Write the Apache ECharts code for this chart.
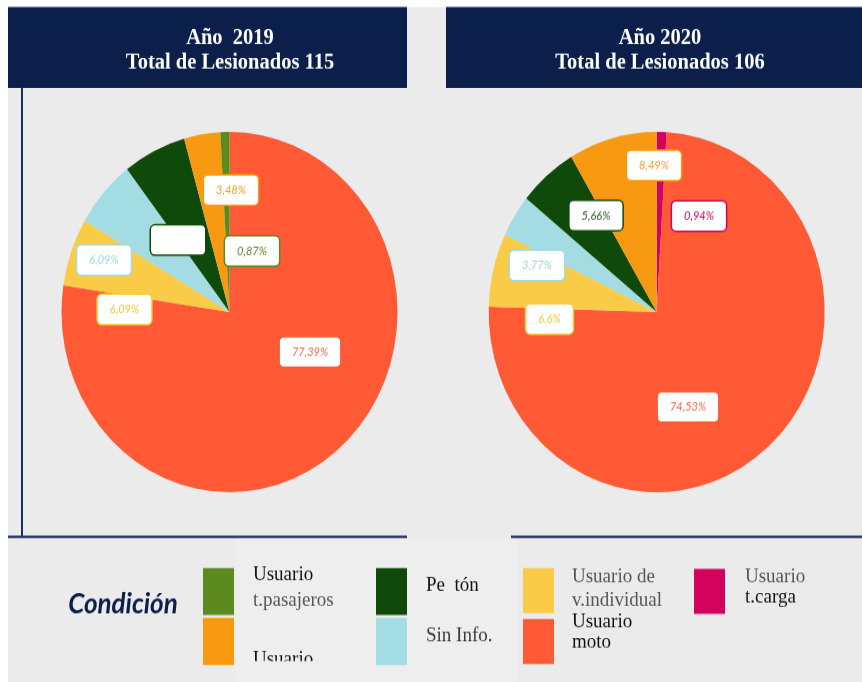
<!DOCTYPE html>
<html>
<head>
<meta charset="utf-8">
<script src="https://cdn.jsdelivr.net/npm/echarts@6/dist/echarts.min.js"></script>
<style>
  html, body { margin: 0; padding: 0; background: #ebebeb; width: 862px; height: 682px; overflow: hidden; }
  #board { position: relative; width: 862px; height: 682px; overflow: hidden; }
  /* the whole board is drawn on a slightly shorter canvas and stretched vertically */
  #chart { position: absolute; left: 0; top: 0; width: 862px; height: 636px;
           transform-origin: 0 0; transform: scaleY(1.0723); }
</style>
</head>
<body>
<div id="board"><div id="chart"></div></div>
<script>
// ---- data ----
const categories = ['Usuario t.pasajeros', 'Usuario', 'Peatón', 'Sin Info.',
                    'Usuario de v.individual', 'Usuario moto', 'Usuario t.carga'];

const years = ['2019', '2020'];
const totals = [115, 106];

// slices listed clockwise from 12 o'clock, values in percent of the year's total
const slices2019 = ['Usuario moto', 'Usuario de v.individual', 'Sin Info.', 'Peatón', 'Usuario', 'Usuario t.pasajeros'];
const pct2019 = [77.39, 6.09, 6.09, 6.09, 3.48, 0.87];
const unlabeled2019 = ['Peatón'];

const slices2020 = ['Usuario t.carga', 'Usuario moto', 'Usuario de v.individual', 'Sin Info.', 'Peatón', 'Usuario'];
const pct2020 = [0.94, 74.53, 6.6, 3.77, 5.66, 8.49];
const unlabeled2020 = [];

// legend captions as printed, one list of lines per category
const legendLines = [
  ['Usuario', 't.pasajeros'],
  ['Usuario'],
  ['Pe  tón'],
  ['Sin Info.'],
  ['Usuario de', 'v.individual'],
  ['Usuario', 'moto'],
  ['Usuario', 't.carga']
];

// ---- styling ----
const palette = ['#5c8a1f', '#f89a11', '#0f4a0b', '#a4dce3', '#f9cb47', '#ff5935', '#d3035d'];
const labelInk = ['#5c8a1f', '#f8a030', '#2e5a2a', '#9fd6de', '#f5c542', '#f26a50', '#d3035d'];
const NAVY = '#0b1f4a';
const K = 682 / 636;                 // vertical stretch applied by CSS
const Y = v => v / K;                // page y -> canvas y
const PIE_Y = 312, PIE_R = 168;
const pieX = [229.5, 656.7];

// label box centres, offset from the pie centre (page pixels)
const labelOffsets = [
  [[80.5, 40], [-105, -2.5], [-125.5, -52], [-51.5, -72], [1.5, -122], [22.5, -61]],
  [[42.3, -96], [31.3, 95], [-107.2, 7], [-119.7, -46.5], [-60.7, -96.5], [-2.7, -146.5]]
];

function pieSeries(k, names, pcts, blanks) {
  const cx = pieX[k];
  return {
    type: 'pie',
    center: [cx, Y(PIE_Y)],
    radius: [0, PIE_R],
    startAngle: 90,
    clockwise: true,
    silent: true,
    animation: false,
    itemStyle: { borderWidth: 0 },
    labelLine: { show: false },
    label: {
      show: true,
      position: 'inside',
      fontFamily: 'Lato',
      fontStyle: 'italic',
      fontSize: 11,
      lineHeight: 13,
      backgroundColor: '#ffffff',
      borderWidth: 1.5,
      borderRadius: 4,
      padding: [7, 12],
      textBorderWidth: 0,
      formatter: p => String(p.value).replace('.', ',') + '%'
    },
    labelLayout: p => {
      const o = labelOffsets[k][p.dataIndex];
      return { x: cx + o[0], y: Y(PIE_Y + o[1]), align: 'center', verticalAlign: 'middle' };
    },
    data: names.map((n, i) => {
      const c = categories.indexOf(n);
      const lab = { color: labelInk[c], borderColor: palette[c] };
      if (blanks.includes(n)) { lab.formatter = ' '; lab.width = 30; }
      return { name: n, value: pcts[i], itemStyle: { color: palette[c] }, label: lab };
    })
  };
}

// ---- frame, titles and legend ----
const g = [];
g.push({ type: 'rect', z: -5, shape: { x: 0, y: 0, width: 862, height: Y(7) }, style: { fill: '#ffffff' } });
g.push({ type: 'rect', z: -5, shape: { x: 0, y: 0, width: 8, height: 636 }, style: { fill: '#ffffff' } });

const boxes = [[8, 399], [446, 416]];
years.forEach((yr, k) => {
  g.push({ type: 'rect', z: 1, shape: { x: boxes[k][0], y: Y(7), width: boxes[k][1], height: Y(88) - Y(7) },
           style: { fill: NAVY } });
  const cxText = k === 0 ? 230 : 660;
  g.push({ type: 'text', z: 2, x: cxText, y: Y(38),
           style: { text: 'Año' + (k === 0 ? '  ' : ' ') + yr, fill: '#ffffff', font: 'bold 20.5px "Liberation Serif"',
                    align: 'center', verticalAlign: 'middle' } });
  g.push({ type: 'text', z: 2, x: cxText, y: Y(63),
           style: { text: 'Total de Lesionados ' + totals[k], fill: '#ffffff', font: 'bold 20.5px "Liberation Serif"',
                    align: 'center', verticalAlign: 'middle' } });
});

// frame lines
g.push({ type: 'rect', z: 1, shape: { x: 21, y: Y(88), width: 2, height: Y(537) - Y(88) }, style: { fill: '#1c2e5c' } });
g.push({ type: 'rect', z: 1, shape: { x: 236, y: Y(538), width: 282, height: 636 - Y(538) }, style: { fill: '#eeeeee' } });
g.push({ type: 'rect', z: 1, shape: { x: 8, y: Y(535.5), width: 399, height: 2.5 / K }, style: { fill: '#1c2e5c' } });
g.push({ type: 'rect', z: 1, shape: { x: 511, y: Y(535.5), width: 351, height: 2.5 / K }, style: { fill: '#1c2e5c' } });

g.push({ type: 'text', z: 2, x: 123, y: Y(604),
         style: { text: 'Condición', fill: NAVY, font: 'italic bold 26px Lato', align: 'center', verticalAlign: 'middle' } });

// legend swatches: [x, top, bottom] in page pixels
const swatch = [
  [203, 568, 615], [203, 618, 665], [376, 568, 615], [376, 618, 665],
  [523, 568, 613], [523, 619, 664], [694, 569, 614]
];
// caption lines: x, then per-line [centre y, colour]
const captions = [
  [253, [[575, '#111111'], [601, '#555555']]],
  [253, [[659.5, '#111111']]],
  [426, [[585, '#111111']]],
  [426, [[636, '#3a3a3a']]],
  [572, [[577, '#555555'], [601, '#555555']]],
  [572, [[622, '#111111'], [642, '#111111']]],
  [745, [[577, '#555555'], [597, '#111111']]]
];
categories.forEach((c, i) => {
  const s = swatch[i];
  g.push({ type: 'rect', z: 2, shape: { x: s[0], y: Y(s[1]), width: 31, height: Y(s[2]) - Y(s[1]) },
           style: { fill: palette[i] } });
  legendLines[i].forEach((line, j) => {
    const cap = captions[i];
    g.push({ type: 'text', z: 2, x: cap[0], y: Y(cap[1][j][0]),
             style: { text: line, fill: cap[1][j][1], font: '19px "Liberation Serif"',
                      align: 'left', verticalAlign: 'middle' } });
  });
});
// lower edge of the legend panel cuts the last caption
g.push({ type: 'rect', z: 3, shape: { x: 245, y: Y(661), width: 120, height: 636 - Y(661) }, style: { fill: '#eeeeee' } });

const chart = echarts.init(document.getElementById('chart'), null, { renderer: 'canvas', width: 862, height: 636 });
chart.setOption({
  backgroundColor: '#ebebeb',
  animation: false,
  graphic: { elements: g },
  series: [
    pieSeries(0, slices2019, pct2019, unlabeled2019),
    pieSeries(1, slices2020, pct2020, unlabeled2020)
  ]
});
</script>
</body>
</html>
